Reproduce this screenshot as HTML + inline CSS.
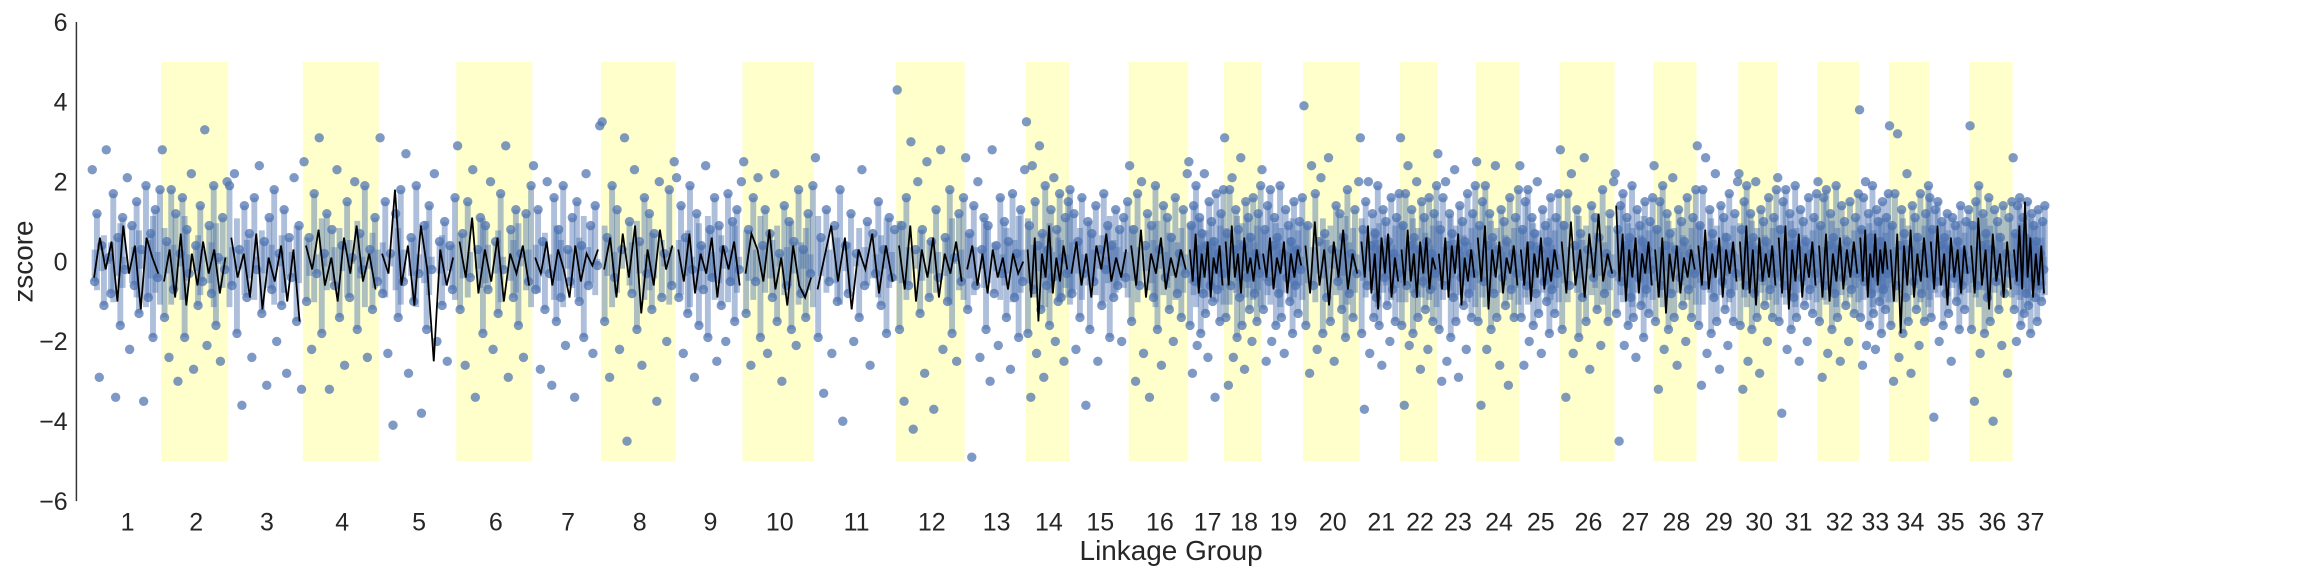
<!DOCTYPE html>
<html><head><meta charset="utf-8"><style>
html,body{margin:0;padding:0;background:#fff;}
svg{display:block;font-family:"Liberation Sans",sans-serif;}
</style></head><body>
<svg id="chart" width="2304" height="576" viewBox="0 0 1568 392"></svg>
<script>
// ---- data ----
const groups = [1,2,3,4,5,6,7,8,9,10,11,12,13,14,15,16,17,18,19,20,21,22,23,24,25,26,27,28,29,30,31,32,33,34,35,36,37];
const groupLengths = [47,45,50,51,52,51,46,50,45,48,55,46,41,29,40,40,24,25,28,38,27,25,26,29,27,37,26,29,28,26,27,28,20,27,27,29,22];
const yTicks = [-6,-4,-2,0,2,4,6];
const bandTop = 5, bandBottom = -5;
const zscores = [
 [2.3,-0.5,1.2,-2.9,0.4,-1.1,2.8,0.1,-0.8,1.7,-3.4,0.6,-1.6,1.1,-0.2,2.1,-2.2,0.9,-0.6,1.5,-1.3,0.3,-3.5,1.9,-0.9,0.7,-1.9,1.3,-0.4,1.8],
 [2.8,-1.4,0.5,-2.4,1.8,-0.7,1.2,-3.0,0.2,1.6,-1.9,0.8,-0.3,2.2,-2.7,0.4,-1.1,1.4,-0.5,3.3,-2.1,0.9,-0.8,1.9,-1.6,0.1,-2.5,1.1,-0.2,2.0],
 [1.9,-0.6,2.2,-1.8,0.3,-3.6,1.4,-0.9,0.7,-2.4,1.6,-0.2,2.4,-1.3,0.5,-3.1,1.1,-0.7,1.8,-2.0,0.2,-1.1,1.3,-2.8,0.6,-0.4,2.1,-1.5,0.9,-3.2],
 [2.5,-1.0,0.6,-2.2,1.7,-0.3,3.1,-1.8,0.2,1.2,-3.2,0.8,-0.6,2.3,-1.4,0.4,-2.6,1.5,-0.9,0.1,2.0,-1.7,0.7,-0.2,1.9,-2.4,0.3,-1.2,1.1,-0.5],
 [3.1,-0.8,1.5,-2.3,0.2,-4.1,1.2,-1.4,1.8,-0.5,2.7,-2.8,0.6,-1.0,1.9,-0.3,-3.8,0.9,-1.7,1.4,-0.2,2.2,-2.0,0.5,-1.1,1.0,-2.5,0.4,-0.7,1.6],
 [2.9,-1.2,0.7,-2.6,1.5,-0.4,2.3,-3.4,0.3,1.1,-1.8,0.9,-0.7,2.0,-2.2,0.5,-1.3,1.7,-0.2,2.9,-2.9,0.8,-0.9,1.3,-1.6,0.2,-2.4,1.2,-0.5,1.9],
 [2.4,-0.7,1.3,-2.7,0.5,-1.2,2.0,-0.3,-3.1,1.6,-1.5,0.8,-0.9,1.9,-2.1,0.3,-0.5,1.1,-3.4,1.5,-1.0,0.4,-1.9,2.2,-0.6,0.9,-2.3,1.4,-0.1,3.4],
 [3.5,-1.5,0.6,-2.9,1.9,-0.4,1.3,-2.2,0.3,3.1,-4.5,1.0,-0.8,2.3,-1.7,0.5,-2.6,1.6,-0.3,1.2,-1.2,0.7,-3.5,2.0,-0.9,0.2,-2.0,1.8,-0.6,2.5],
 [2.1,-0.9,1.4,-2.3,0.6,-1.3,1.9,-0.2,-2.9,1.2,-1.6,0.4,-0.7,2.4,-1.9,0.8,-0.4,1.6,-2.5,0.9,-1.1,0.3,-2.0,1.7,-0.5,1.0,-1.5,1.3,-0.2,2.0],
 [2.5,-1.3,0.8,-2.6,1.6,-0.5,2.1,-1.9,0.4,1.3,-2.3,0.7,-0.9,2.2,-1.5,0.2,-3.0,1.4,-0.6,1.0,-1.7,0.5,-2.1,1.8,-0.8,0.3,-1.4,1.2,-0.3,1.9],
 [2.6,-1.9,0.6,-3.3,1.3,-0.5,-2.3,0.9,-1.0,1.8,-4.0,0.4,-0.8,1.2,-2.0,0.2,-1.4,2.3,-0.6,1.0,-2.6,0.7,-0.3,1.5,-1.1,0.3,-1.8,1.1,-0.4,0.8],
 [4.3,-1.7,0.9,-3.5,1.6,-0.6,3.0,-4.2,0.3,2.0,-1.3,0.8,-2.8,2.5,-0.9,0.5,-3.7,1.3,-0.4,2.8,-2.2,0.6,-1.0,1.8,-1.8,0.1,-2.5,1.2,-0.5,1.6],
 [2.6,-1.2,0.7,-4.9,1.4,-0.6,2.0,-2.4,0.3,1.1,-1.7,0.9,-3.0,2.8,-0.8,0.4,-2.1,1.6,-0.3,1.0,-1.4,0.5,-2.7,1.7,-0.9,0.2,-1.9,1.3,-0.5,2.3],
 [3.5,-1.8,0.9,-3.4,2.4,-0.7,1.5,-2.3,0.4,2.9,-1.2,0.7,-2.9,1.9,-0.6,0.3,-1.6,1.3,-0.4,2.1,-2.0,0.8,-1.0,1.7,-0.9,0.1,-2.5,1.1,-0.3,1.5],
 [1.8,-0.8,1.2,-2.2,0.5,-1.4,1.6,-0.3,-3.6,1.0,-1.7,0.7,-0.5,1.4,-2.5,0.3,-1.1,1.7,-0.2,0.9,-1.9,0.4,-0.9,1.3,-0.6,0.8,-2.0,1.1,-0.4,1.5],
 [2.4,-1.5,0.8,-3.0,1.7,-0.6,2.0,-2.3,0.4,1.2,-3.4,0.9,-0.9,1.9,-1.7,0.3,-2.6,1.4,-0.4,1.1,-1.2,0.6,-2.0,1.6,-0.8,0.2,-1.4,1.3,-0.3,2.2],
 [2.5,-1.6,0.9,-2.8,1.4,-0.5,1.9,-2.1,0.3,1.1,-1.8,0.7,-0.8,2.2,-1.3,0.4,-2.4,1.5,-0.6,1.0,-1.0,0.5,-3.4,1.7,-0.7,0.2,-1.5,1.2,-0.3,1.8],
 [3.1,-1.4,0.7,-3.1,1.8,-0.6,2.1,-2.4,0.3,1.3,-1.9,0.8,-0.9,2.6,-1.6,0.4,-2.7,1.5,-0.4,1.1,-1.2,0.6,-2.0,1.6,-0.8,0.2,-1.5,1.2,-0.3,1.9],
 [2.3,-1.2,0.8,-2.5,1.4,-0.5,1.8,-2.0,0.4,1.1,-1.6,0.6,-0.8,1.9,-1.4,0.2,-2.3,1.3,-0.4,0.9,-1.0,0.5,-1.8,1.5,-0.6,0.3,-1.3,1.0,-0.2,1.6],
 [3.9,-1.6,0.9,-2.8,2.4,-0.6,1.7,-2.2,0.5,2.1,-1.8,0.7,-0.9,2.6,-1.5,0.3,-2.5,1.4,-0.5,1.2,-1.2,0.6,-1.9,1.8,-0.8,0.2,-1.4,1.3,-0.3,2.0],
 [3.1,-1.8,0.8,-3.7,1.5,-0.6,2.0,-2.3,0.4,1.2,-1.4,0.7,-0.9,1.9,-1.6,0.3,-2.6,1.3,-0.4,1.0,-1.1,0.5,-2.0,1.6,-0.7,0.2,-1.5,1.1,-0.3,1.7],
 [3.1,-1.6,0.9,-3.6,1.7,-0.6,2.4,-2.1,0.4,1.3,-1.8,0.6,-0.8,2.0,-1.4,0.3,-2.7,1.5,-0.5,1.1,-1.2,0.5,-2.2,1.6,-0.7,0.2,-1.5,1.2,-0.3,1.9],
 [2.7,-1.7,0.8,-3.0,1.6,-0.6,2.0,-2.5,0.4,1.2,-1.9,0.7,-0.9,2.3,-1.5,0.3,-2.9,1.4,-0.4,1.0,-1.1,0.5,-2.2,1.7,-0.8,0.2,-1.4,1.2,-0.3,1.9],
 [2.5,-1.5,0.9,-3.6,1.5,-0.5,1.9,-2.2,0.4,1.2,-1.7,0.6,-0.8,2.4,-1.4,0.3,-2.6,1.3,-0.4,1.0,-1.1,0.5,-3.1,1.6,-0.7,0.2,-1.4,1.1,-0.3,1.8],
 [2.4,-1.4,0.8,-2.6,1.5,-0.6,1.8,-2.0,0.4,1.1,-1.6,0.7,-0.8,2.0,-1.3,0.3,-2.3,1.3,-0.5,0.9,-1.0,0.5,-1.8,1.6,-0.7,0.2,-1.3,1.1,-0.3,1.7],
 [2.8,-1.7,0.9,-3.4,1.7,-0.6,2.2,-2.3,0.4,1.3,-1.9,0.7,-0.9,2.6,-1.5,0.3,-2.7,1.4,-0.4,1.1,-1.2,0.6,-2.1,1.8,-0.8,0.2,-1.5,1.2,-0.3,2.0],
 [2.2,-1.3,0.8,-4.5,1.4,-0.5,1.7,-2.1,0.4,1.1,-1.6,0.6,-0.9,1.9,-1.4,0.2,-2.4,1.3,-0.4,0.9,-1.1,0.5,-1.9,1.5,-0.7,0.3,-1.3,1.0,-0.2,1.6],
 [2.4,-1.5,0.8,-3.2,1.5,-0.6,1.9,-2.2,0.4,1.2,-1.7,0.7,-0.8,2.1,-1.4,0.3,-2.6,1.3,-0.4,1.0,-1.1,0.5,-2.0,1.6,-0.7,0.2,-1.4,1.1,-0.3,1.8],
 [2.9,-1.6,0.9,-3.1,1.8,-0.6,2.6,-2.3,0.4,1.3,-1.8,0.7,-0.9,2.2,-1.5,0.3,-2.7,1.4,-0.5,1.1,-1.2,0.6,-2.1,1.7,-0.8,0.2,-1.5,1.2,-0.3,2.0],
 [2.2,-1.6,0.8,-3.2,1.5,-0.6,1.9,-2.5,0.4,1.2,-1.7,0.6,-0.8,2.0,-1.4,0.3,-2.8,1.3,-0.4,1.0,-1.1,0.5,-2.0,1.6,-0.7,0.2,-1.4,1.1,-0.3,1.8],
 [2.1,-1.5,0.8,-3.8,1.5,-0.6,1.8,-2.2,0.4,1.2,-1.7,0.7,-0.9,1.9,-1.4,0.3,-2.5,1.3,-0.4,1.0,-1.1,0.5,-2.0,1.6,-0.7,0.2,-1.3,1.1,-0.3,1.7],
 [2.0,-1.5,0.9,-2.9,1.6,-0.6,1.8,-2.3,0.4,1.2,-1.7,0.6,-0.8,1.9,-1.4,0.3,-2.5,1.4,-0.4,1.0,-1.1,0.5,-2.0,1.5,-0.7,0.2,-1.3,1.1,-0.3,1.7],
 [3.8,-1.4,0.8,-2.6,1.6,-0.5,2.0,-2.1,0.4,1.2,-1.6,0.6,-0.8,1.9,-1.3,0.3,-2.2,1.3,-0.4,1.0,-1.0,0.5,-1.8,1.5,-0.7,0.2,-1.2,1.1,-0.3,1.7],
 [3.4,-1.6,0.9,-3.0,1.7,-0.6,3.2,-2.4,0.4,1.3,-1.8,0.7,-0.9,2.2,-1.5,0.3,-2.8,1.4,-0.5,1.1,-1.2,0.6,-2.1,1.7,-0.8,0.2,-1.5,1.2,-0.3,1.9],
 [1.6,-1.4,0.8,-3.9,1.3,-0.5,1.5,-2.0,0.4,1.0,-1.6,0.6,-0.8,1.2,-1.3,0.3,-2.5,1.1,-0.4,0.9,-1.0,0.5,-1.7,1.4,-0.6,0.2,-1.2,1.0,-0.2,1.3],
 [3.4,-1.7,0.9,-3.5,1.5,-0.6,1.9,-2.3,0.4,1.2,-1.8,0.7,-0.9,1.6,-1.5,0.3,-4.0,1.3,-0.5,1.0,-1.2,0.6,-2.1,1.4,-0.8,0.2,-2.8,1.1,-0.3,1.5],
 [2.6,-1.2,0.7,-2.0,1.4,-0.5,1.6,-1.6,0.4,1.1,-1.3,0.6,-0.8,1.5,-1.1,0.3,-1.8,1.2,-0.4,0.9,-0.9,0.5,-1.5,1.3,-0.6,0.2,-1.0,1.0,-0.2,1.4]
];
const trend = [
 [-0.4,0.6,-0.2,0.5,-1.0,0.9,-0.3,0.4,-1.2,0.6,0.1,-0.3],
 [-0.5,0.3,-0.9,0.7,-1.1,0.2,-0.6,0.5,-0.3,0.3,-0.8,0.1],
 [0.6,-0.4,0.2,-0.9,0.7,-1.2,0.1,-0.5,0.4,-1.0,0.3,-1.5],
 [0.4,-0.2,0.8,-0.6,0.1,-1.0,0.6,-0.3,0.9,-0.5,0.2,-0.7],
 [0.2,-0.3,1.8,-0.6,0.4,-1.1,0.9,-0.2,-2.5,0.3,-0.6,0.1],
 [0.5,-0.4,1.1,-0.8,0.3,-0.5,0.6,-1.0,0.2,-0.3,0.4,-0.6],
 [0.1,-0.3,0.5,-0.6,0.3,-0.2,-0.9,0.4,-0.5,0.2,-0.1,0.3],
 [-0.2,0.6,-0.9,0.7,-0.4,0.9,-1.3,0.3,-0.6,0.8,-0.2,0.4],
 [0.3,-0.5,0.7,-0.8,0.2,-0.3,0.6,-0.9,0.4,-0.2,0.5,-0.6],
 [-0.3,0.7,0.3,-0.5,0.8,-0.7,0.1,-1.1,0.4,-0.6,-0.9,-0.4],
 [-0.7,0.1,0.9,-0.5,0.6,-1.2,0.3,-0.2,0.7,-0.8,0.4,-0.5],
 [0.4,-0.7,0.9,-1.0,0.3,-0.4,0.6,-0.9,0.2,-0.3,0.5,-0.5],
 [-0.2,0.4,-0.6,0.2,-0.8,0.3,-0.4,0.1,-0.7,0.2,-0.3,0.0],
 [0.3,-0.9,0.6,-1.5,0.2,-0.4,0.9,-0.8,0.1,-0.5,0.4,-0.2],
 [-0.3,0.5,-0.6,0.2,-0.9,0.4,-0.2,0.7,-0.5,0.1,-0.4,0.3],
 [0.4,-0.6,0.8,-0.9,0.2,-0.3,0.6,-0.7,0.1,-0.4,0.3,-0.2],
 [0.3,-0.5,0.7,-0.8,0.2,-0.4,0.5,-0.9,0.1,-0.3,0.4,-0.6],
 [0.5,-0.6,0.9,-0.4,0.2,-0.8,0.6,-0.3,0.1,-0.5,0.3,-0.2],
 [0.2,-0.4,0.6,-0.7,0.1,-0.3,0.5,-0.8,0.2,-0.4,0.3,-0.1],
 [0.4,-0.8,1.0,-0.6,0.3,-1.1,0.5,-0.4,0.8,-0.7,0.2,-0.3],
 [0.5,-0.4,0.9,-0.8,0.2,-1.2,0.6,-0.3,0.7,-0.9,0.1,-0.5],
 [0.3,-0.6,0.8,-0.5,0.2,-0.9,0.5,-0.3,0.6,-0.7,0.1,-0.2],
 [0.2,-0.7,0.6,-0.9,0.4,-0.3,0.7,-1.1,0.1,-0.5,0.3,-0.4],
 [0.6,-0.5,0.9,-1.2,0.3,-0.4,0.5,-0.8,0.1,-0.3,0.4,-0.6],
 [0.3,-0.6,0.5,-1.0,0.2,-0.4,0.6,-0.7,0.1,-0.5,0.3,-0.2],
 [0.5,-0.8,1.0,-0.6,0.3,-0.9,0.7,-0.4,1.2,-0.5,0.2,-0.3],
 [1.4,-0.5,0.7,-1.0,0.3,-0.4,0.6,-0.8,0.2,-0.3,0.5,-0.6],
 [0.3,-0.9,0.6,-1.3,0.2,-0.5,0.4,-0.8,0.1,-0.4,0.3,-0.2],
 [0.4,-0.6,0.8,-0.7,0.2,-0.4,0.6,-0.9,0.3,-0.3,0.5,-0.5],
 [0.5,-0.7,0.9,-0.8,0.3,-1.1,0.6,-0.5,0.2,-0.4,0.4,-0.6],
 [0.6,-0.8,0.9,-1.2,0.3,-0.5,0.7,-0.9,0.2,-0.4,0.5,-0.6],
 [0.4,-0.9,0.7,-1.0,0.2,-0.5,0.6,-0.7,0.3,-0.4,0.5,-0.3],
 [0.6,-0.5,0.8,-0.9,0.2,-0.4,0.7,-0.6,0.3,-0.3,0.5,-0.2],
 [0.3,-1.0,0.7,-1.8,0.4,-0.6,0.8,-0.9,0.2,-0.5,0.6,-0.4],
 [0.5,-0.7,0.9,-0.6,0.2,-1.1,0.6,-0.4,0.3,-0.8,0.4,-0.3],
 [0.4,-0.8,1.1,-0.6,0.3,-1.2,0.7,-0.5,0.2,-0.9,0.5,-0.7],
 [0.3,-0.5,0.9,-0.7,1.5,-0.4,0.6,-0.9,0.2,-0.6,0.4,-0.8]
];
// ---- scales ----
const svg = document.getElementById('chart');
const NS = 'http://www.w3.org/2000/svg';
const X0 = 62, X1 = 1392;
const total = groupLengths.reduce((a,b)=>a+b,0);
const starts = []; let acc = 0;
groupLengths.forEach(l=>{starts.push(acc); acc+=l;});
function xPos(cm){ return X0 + cm*(X1-X0)/total; }
function yPos(z){ return 178 - z*27.17; }
function mk(tag, attrs){ const e=document.createElementNS(NS,tag); for(const k in attrs) e.setAttribute(k,attrs[k]); svg.appendChild(e); return e; }

// bands
groups.forEach((g,i)=>{
  if(g%2===0){
    const r = mk('rect',{x:xPos(starts[i]),y:yPos(bandTop),width:xPos(starts[i]+groupLengths[i])-xPos(starts[i]),height:yPos(bandBottom)-yPos(bandTop),fill:'#ffffcc'});
    
    
  }
});
// dense core fill
groups.forEach((g,i)=>{
  const vals = zscores[i]; const n = vals.length;
  for(let j=0;j<n;j++){
    const cm = starts[i] + groupLengths[i]*(j+0.5)/n;
    const z = vals[j];
    if(Math.abs(z)<2){
      const l = mk('line',{x1:xPos(cm),x2:xPos(cm),y1:yPos(z),y2:yPos(-z*0.6),stroke:'#4c72b0','stroke-opacity':0.45,'stroke-width':4});
      
      
    }
  }
});
// points
groups.forEach((g,i)=>{
  const vals = zscores[i]; const n = vals.length;
  vals.forEach((z,j)=>{
    const cm = starts[i] + groupLengths[i]*(j+0.5)/n;
    const c = mk('circle',{cx:xPos(cm),cy:yPos(z),r:3.2,fill:'#4c72b0','fill-opacity':0.72});
    
    
  });
});
// trend lines
groups.forEach((g,i)=>{
  const t = trend[i]; const n=t.length;
  const pts = t.map((z,j)=> xPos(starts[i]+groupLengths[i]*(j+0.5)/n).toFixed(1)+','+yPos(z).toFixed(1)).join(' ');
  const p = mk('polyline',{points:pts,fill:'none',stroke:'#000','stroke-width':1.2});
  
  
});
// y axis
const ax = mk('line',{x1:52,x2:52,y1:yPos(6),y2:yPos(-6),stroke:'#333','stroke-width':1});


yTicks.forEach(v=>{
  const t = mk('text',{x:46,y:yPos(v)+6,'text-anchor':'end','font-size':17,fill:'#262626'});
  t.textContent = v<0 ? '\u2212'+Math.abs(v) : String(v);
  
  
});
const yt = mk('text',{x:0,y:0,transform:'translate(22,178) rotate(-90)','text-anchor':'middle','font-size':19,fill:'#262626'});
yt.textContent='zscore';


// x labels
groups.forEach((g,i)=>{
  const t = mk('text',{x:xPos(starts[i]+groupLengths[i]/2)+1,y:361,'text-anchor':'middle','font-size':17,fill:'#262626'});
  t.textContent = String(g);
  
  
});
const xt = mk('text',{x:797,y:381,'text-anchor':'middle','font-size':19,fill:'#262626'});
xt.textContent='Linkage Group';


</script>
</body></html>
